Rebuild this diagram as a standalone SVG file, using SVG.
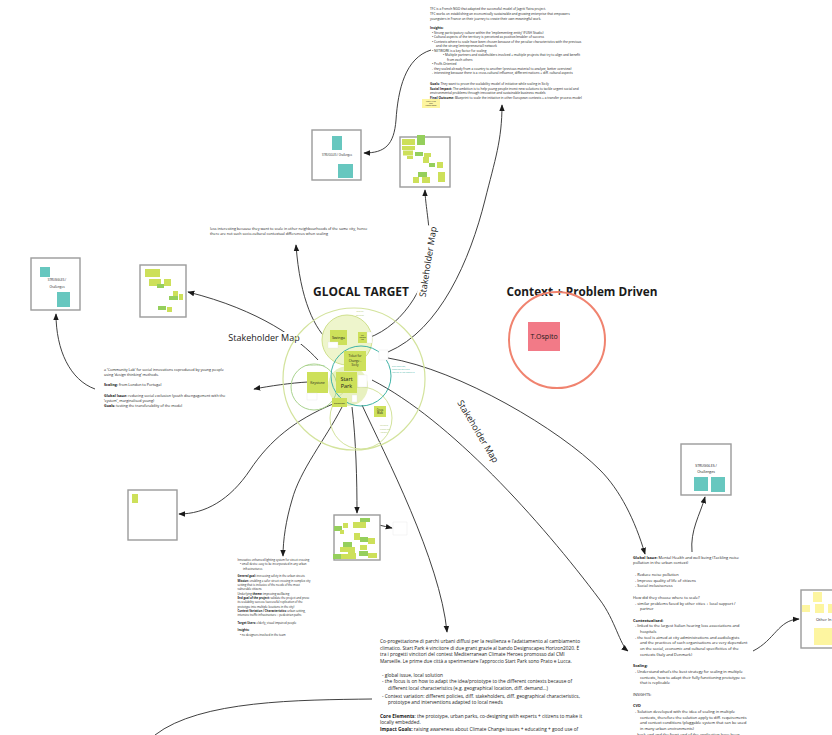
<svg xmlns="http://www.w3.org/2000/svg" width="832" height="735" viewBox="0 0 832 735">
<defs>
<style>
text{font-family:"Open Sans","Noto Sans","Liberation Sans",sans-serif;fill:#1a1a1a}
.t{font-size:3.2px}
.tl{font-size:3.7px}
.tb{font-size:2.8px}
.ti{font-size:4.8px}
.tr{font-size:3.9px}
.b{font-weight:700}
.board{fill:#fff;stroke:#9b9b9b;stroke-width:1.4}
.teal{fill:#67c7bf}
.lime{fill:#cde05a}
.grn{fill:#95cf5c}
.yel{fill:#fdf5a0}
.note{fill:#fff;stroke:#ddd;stroke-width:0.3}
.c{fill:none;stroke:#2b2b2b;stroke-width:0.9}
.lbl{font-size:9px;fill:#222}
.title{font-size:12.5px;font-weight:700}
</style>
<marker id="ah" viewBox="0 0 10 10" refX="9" refY="5" markerWidth="7" markerHeight="7" orient="auto-start-reverse" markerUnits="userSpaceOnUse">
<path d="M0,1 L10,5 L0,9 z" fill="#1a1a1a"/>
</marker>
</defs>

<!-- connectors -->
<g id="connectors">
<path class="c" marker-end="url(#ah)" d="M431,50 C405,58 398,90 396,120 C394,145 385,153 364,153"/>
<path class="c" marker-end="url(#ah)" d="M368,338 C405,325 432,280 430,240 C428,215 425,200 425,190"/>
<path class="c" marker-end="url(#ah)" d="M388,352 C440,330 470,260 485,200 C495,160 502,140 502,105"/>
<path class="c" marker-end="url(#ah)" d="M330,342 C315,330 300,300 296,245"/>
<path class="c" marker-end="url(#ah)" d="M318,360 C300,340 260,310 188,292"/>
<path class="c" marker-end="url(#ah)" d="M308,382 C290,383 270,386 254,389"/>
<path class="c" marker-end="url(#ah)" d="M95,389 C70,380 56,350 56,314"/>
<path class="c" marker-end="url(#ah)" d="M333,404 C295,420 270,440 250,470 C230,500 205,514 179,514"/>
<path class="c" marker-end="url(#ah)" d="M342,407 C325,440 300,470 292,500 C286,520 283,540 283,556"/>
<path class="c" marker-end="url(#ah)" d="M352,407 C356,440 357,480 357,513"/>
<path class="c" marker-end="url(#ah)" d="M362,405 C385,455 440,560 447,632"/>
<path class="c" marker-end="url(#ah)" d="M372,380 C450,420 540,520 600,600 C615,620 620,645 628,651"/>
<path class="c" marker-end="url(#ah)" d="M388,358 C460,370 560,430 600,470 C620,490 635,520 645,554"/>
<path class="c" marker-end="url(#ah)" d="M692,552 C690,530 700,515 705,497"/>
<path class="c" marker-end="url(#ah)" d="M753,651 C775,640 778,620 799,619"/>
<path class="c" marker-end="url(#ah)" d="M365,522 C375,524 383,526 392,528"/>
<path class="c" d="M155,735 C200,700 300,700 372,699"/>
<rect x="219" y="332" width="90" height="12" fill="#fff"/>
<text class="lbl" x="264" y="341" text-anchor="middle">Stakeholder Map</text>
<g transform="translate(429,262) rotate(-81)"><rect x="-36" y="-7" width="72" height="11" fill="#fff"/><text class="lbl" x="0" y="2" text-anchor="middle">Stakeholder Map</text></g>
<g transform="translate(477,432) rotate(59)"><rect x="-36" y="-7" width="72" height="11" fill="#fff"/><text class="lbl" x="0" y="2" text-anchor="middle">Stakeholder Map</text></g>
</g>

<!-- TFC description -->
<g id="tfc-text" class="t">
<text x="430" y="10">TFC is a French NGO that adapted the successful model of Jagriti Yatra project.</text>
<text x="430" y="15">TFC works on establishing an economically sustainable and growing enterprise that empowers</text>
<text x="430" y="19.5">youngsters in France on their journey to create their own meaningful work.</text>
<text x="430" y="29" class="b">Insights:</text>
<text x="432" y="33.5">•  Strong participatory culture within the ‘implementing entity’ (FUSH Studio)</text>
<text x="432" y="38">•  Cultural aspects of the territory is perceived as positive/enabler of success</text>
<text x="432" y="42.5">•  Contexts where to scale have been chosen because of the peculiar characteristics with the previous</text>
<text x="436" y="47">and the strong (entrepreneurial) network</text>
<text x="432" y="51.5">•  NETWORK is a key factor for scaling</text>
<text x="443" y="56">•  Multiple partners and stakeholders involved + multiple projects that try to align and benefit</text>
<text x="447" y="60.5">from each others</text>
<text x="432" y="65">•  Profit-Oriented</text>
<text x="430" y="69.5">→ they scaled already from a country to another (previous material to analyze, better overview)</text>
<text x="430" y="74">→ interesting because there is a cross-cultural influence, different nations + diff. cultural aspects</text>
<text x="430" y="85"><tspan class="b">Goals:</tspan> They want to prove the scalability model of initiative while scaling in Sicily</text>
<text x="430" y="89.5"><tspan class="b">Social Impact:</tspan> The ambition is to help young people invest new solutions to tackle urgent social and</text>
<text x="430" y="94">environmental problems through innovative and sustainable business models</text>
<text x="430" y="98.5"><tspan class="b">Final Outcome:</tspan> Blueprint to scale the initiative in other European contexts + a transfer process model</text>
</g>
<g id="tfc-sticky">
<rect class="yel" x="422" y="99" width="18" height="9"/>
<text x="431" y="102" font-size="1.6" text-anchor="middle">Make it a real</text>
<text x="431" y="104" font-size="1.6" text-anchor="middle">scale</text>
<text x="431" y="106" font-size="1.6" text-anchor="middle">transfer model</text>
</g>

<!-- Boards -->
<g id="board-tfc-struggles">
<rect class="board" x="312" y="130" width="49" height="50"/>
<rect class="teal" x="332" y="136" width="10" height="14"/>
<text x="337" y="156" font-size="2.6" text-anchor="middle">STRUGGLES / Challenges</text>
<rect class="teal" x="338" y="164" width="15" height="14"/>
</g>
<g id="board-tfc-map">
<rect class="board" x="400" y="137" width="50" height="50"/>
<rect class="grn" x="417" y="135" width="8" height="10"/>
<rect class="lime" x="402" y="139" width="13" height="6"/>
<rect class="lime" x="402" y="146" width="13" height="4"/>
<rect class="lime" x="403" y="150.5" width="10" height="5"/>
<rect class="grn" x="415" y="152" width="8" height="4"/>
<rect class="lime" x="424" y="153" width="7" height="4"/>
<rect class="lime" x="407" y="156" width="6" height="3"/>
<rect class="lime" x="423" y="157" width="6" height="6"/>
<rect class="grn" x="429" y="163" width="6" height="4"/>
<rect class="lime" x="437" y="162" width="6" height="6"/>
<rect class="grn" x="418" y="172" width="9" height="5"/>
<rect class="lime" x="413" y="177" width="6" height="6"/>
<rect class="lime" x="422" y="177" width="8" height="6"/>
<rect class="lime" x="438" y="172" width="7" height="10"/>
</g>
<g id="board-keystone-struggles">
<rect class="board" x="31" y="258" width="49" height="52"/>
<rect class="teal" x="40" y="267" width="10" height="10"/>
<text x="57" y="281" font-size="3" text-anchor="middle">STRUGGLES /</text>
<text x="57" y="288" font-size="3" text-anchor="middle">Challenges</text>
<rect class="teal" x="57" y="292" width="13" height="15"/>
</g>
<g id="board-keystone-map">
<rect class="board" x="140" y="265" width="46" height="52"/>
<rect class="lime" x="145" y="269" width="15" height="8"/>
<rect class="lime" x="149" y="279" width="12" height="7"/>
<rect class="grn" x="157" y="284" width="7" height="4"/>
<rect class="lime" x="164" y="279" width="7" height="7"/>
<rect class="lime" x="173" y="291" width="5" height="5"/>
<rect class="grn" x="169" y="296" width="9" height="4"/>
<rect class="lime" x="179" y="294" width="4" height="6"/>
<rect class="grn" x="158" y="306" width="8" height="4"/>
<rect class="lime" x="167" y="307" width="5" height="5"/>
</g>
<g id="board-crosswalk">
<rect class="board" x="128" y="490" width="49" height="50"/>
<rect class="lime" x="132" y="494" width="6" height="9"/>
</g>
<g id="board-startpark-map">
<rect class="board" x="334" y="515" width="46" height="45"/>
<rect class="grn" x="360" y="518" width="10" height="4"/>
<rect class="lime" x="353" y="522" width="13" height="6"/>
<rect class="grn" x="334" y="526" width="8" height="5"/>
<rect class="lime" x="343" y="523" width="5" height="5"/>
<rect class="lime" x="340" y="530" width="4" height="4"/>
<rect class="lime" x="354" y="533" width="6" height="7"/>
<rect class="grn" x="360" y="537" width="8" height="5"/>
<rect class="lime" x="368" y="538" width="7" height="6"/>
<rect class="grn" x="343" y="542" width="9" height="5"/>
<rect class="lime" x="340" y="547" width="8" height="5"/>
<rect class="lime" x="348" y="547" width="7" height="8"/>
<rect class="lime" x="360" y="545" width="7" height="5"/>
<rect class="grn" x="359" y="551" width="9" height="5"/>
<rect class="lime" x="368" y="553" width="9" height="5"/>
<rect class="grn" x="333" y="554" width="8" height="5"/>
<rect class="lime" x="341" y="554" width="7" height="5"/>
<rect class="lime" x="348" y="553" width="8" height="6"/>
<rect class="note" x="393" y="522" width="14" height="13"/>
</g>
<g id="board-noise-struggles">
<rect class="board" x="681" y="444" width="50" height="51"/>
<text x="706" y="467" font-size="3.5" text-anchor="middle">STRUGGLES /</text>
<text x="706" y="472.5" font-size="3.5" text-anchor="middle">Challenges</text>
<rect class="teal" x="694" y="477" width="14" height="14"/>
<rect class="teal" x="711" y="477" width="14" height="15"/>
</g>
<g id="board-other">
<rect class="board" x="801" y="590" width="40" height="58"/>
<rect class="yel" x="813" y="592" width="9" height="10"/>
<rect class="yel" x="802" y="605" width="8" height="7"/>
<rect class="yel" x="815" y="604" width="9" height="9"/>
<rect class="yel" x="828" y="604" width="6" height="9"/>
<text x="816" y="621" font-size="4">Other In</text>
<rect class="yel" x="814" y="628" width="20" height="17"/>
</g>

<!-- Glocal target cluster -->
<g id="glocal">
<text class="title" x="361" y="296" text-anchor="middle" textLength="96" lengthAdjust="spacingAndGlyphs">GLOCAL TARGET</text>
<circle cx="354" cy="379" r="71" fill="none" stroke="#d3e39c" stroke-width="1.2"/>
<circle cx="347" cy="340" r="25" fill="#eef5cc" stroke="#cfe08c" stroke-width="1"/>
<circle cx="348" cy="386" r="20" fill="#e8f1c0"/>
<circle cx="314" cy="387" r="23" fill="none" stroke="#a9d38e" stroke-width="1"/>
<circle cx="361" cy="418" r="31" fill="none" stroke="#d3e39c" stroke-width="1"/>
<circle cx="361" cy="376" r="30" fill="none" stroke="#3fb3a6" stroke-width="1"/>
<text x="360" y="312" font-size="2.4" text-anchor="middle" style="fill:#b0c96a">Digital</text>
<text x="360" y="316" font-size="2.4" text-anchor="middle" style="fill:#b0c96a">Service</text>
<text x="315" y="366" font-size="2.4" text-anchor="middle" style="fill:#8cc46a">Communities Lab</text>
<text x="392" y="367" font-size="2.2" style="fill:#3fb3a6">Stay solution,</text>
<text x="392" y="370" font-size="2.2" style="fill:#3fb3a6">enabling multiple</text>
<text x="392" y="373" font-size="2.2" style="fill:#3fb3a6">testing in the contexts</text>
<text x="380" y="426" font-size="2.2" style="fill:#a9c46a">Physical</text>
<text x="380" y="429.5" font-size="2.2" style="fill:#a9c46a">Prototype</text>
<text x="380" y="433" font-size="2.2" style="fill:#a9c46a">/ Space</text>
</g>
<g id="swinga">
<rect class="lime" x="330" y="330" width="17" height="15"/>
<text x="338.5" y="339" font-size="4" text-anchor="middle">Swinga</text>
<rect class="note" x="328" y="342" width="10" height="6"/>
</g>
<g id="city-log">
<rect class="lime" x="358" y="332" width="9" height="11"/>
<text x="362.5" y="335.5" font-size="1.7" text-anchor="middle">City</text>
<text x="362.5" y="337.8" font-size="1.7" text-anchor="middle">Morning</text>
<text x="362.5" y="340.1" font-size="1.7" text-anchor="middle">Log</text>
<rect class="note" x="367" y="332" width="5" height="11"/>
</g>
<g id="ticket-for-change">
<rect class="lime" x="344" y="351" width="22" height="20"/>
<text x="355" y="357" font-size="3" text-anchor="middle">Ticket for</text>
<text x="355" y="361.5" font-size="3" text-anchor="middle">Change -</text>
<text x="355" y="366" font-size="3" text-anchor="middle">Sicily</text>
<rect class="note" x="379" y="350" width="9" height="10"/>
</g>
<g id="start-park">
<rect class="lime" x="336" y="372" width="21" height="21"/>
<text x="346.5" y="381" font-size="5.5" text-anchor="middle">Start</text>
<text x="346.5" y="388" font-size="5.5" text-anchor="middle">Park</text>
<rect class="note" x="358" y="375" width="9" height="12"/>
</g>
<g id="keystone">
<rect class="lime" x="307" y="372" width="21" height="21"/>
<text x="317.5" y="384" font-size="3.4" text-anchor="middle">Keystone</text>
<rect class="note" x="307" y="393" width="10" height="7"/>
</g>
<g id="signaphon">
<rect class="lime" x="332" y="398" width="15" height="9"/>
<text x="339.5" y="403.5" font-size="2.2" text-anchor="middle">Signaphon</text>
<rect class="note" x="352" y="395" width="5" height="7"/>
</g>
<g id="cross-walk">
<rect class="lime" x="374" y="406" width="12" height="11"/>
<text x="380" y="410.5" font-size="2.6" text-anchor="middle">Cross</text>
<text x="380" y="414" font-size="2.6" text-anchor="middle">Walk</text>
</g>

<!-- Context + problem driven cluster -->
<g id="context-problem">
<text class="title" x="582" y="296" text-anchor="middle" textLength="151" lengthAdjust="spacingAndGlyphs">Context + Problem Driven</text>
<circle cx="557" cy="340" r="48" fill="none" stroke="#f0836f" stroke-width="2"/>
<rect x="528" y="322" width="32" height="29" fill="#f27a87"/>
<text x="544" y="339" font-size="7" text-anchor="middle">T.Ospito</text>
</g>

<!-- Text blocks -->
<g id="swinga-text" class="tl">
<text x="210" y="230">less interesting because they want to scale in other neighbourhoods of the same city, hence</text>
<text x="210" y="235">there are not such socio-cultural contextual differences when scaling</text>
</g>
<g id="keystone-text" class="tl">
<text x="104" y="371">a ‘Community Lab’ for social innovations coproduced by young people</text>
<text x="104" y="376">using ‘design thinking’ methods.</text>
<text x="104" y="386"><tspan class="b">Scaling:</tspan> from London to Portugal</text>
<text x="104" y="397"><tspan class="b">Global Issue:</tspan> reducing social exclusion (youth disengagement with the</text>
<text x="104" y="402">‘system’, marginalised young)</text>
<text x="104" y="407"><tspan class="b">Goals:</tspan> testing the transferability of the model</text>
</g>
<g id="crosswalk-text" class="tb">
<text x="237.5" y="561">Innovative enhanced lighting system for street crossing</text>
<text x="240" y="565.3">•  small device easy to be incorporated in any urban</text>
<text x="243" y="569.7">infrastructures</text>
<text x="237.5" y="577.3"><tspan class="b">General goal:</tspan> increasing safety in the urban streets</text>
<text x="237.5" y="581.7"><tspan class="b">Mission:</tspan> enabling a safer street crossing in complex city</text>
<text x="237.5" y="586">setting that is inclusive of the needs of the most</text>
<text x="237.5" y="590.3">vulnerable citizens</text>
<text x="237.5" y="594.7">Underlying <tspan class="b">theme:</tspan> improving wellbeing</text>
<text x="237.5" y="599"><tspan class="b">End goal of the project:</tspan> validate the project and prove</text>
<text x="237.5" y="603.3">its scalability success (successful replication of the</text>
<text x="237.5" y="607.7">prototype into multiple locations in the city)</text>
<text x="237.5" y="612"><tspan class="b">Context Variation / Characteristics:</tspan> urban setting,</text>
<text x="237.5" y="616.3">intensive traffic infrastructure + pedestrian paths</text>
<text x="237.5" y="624"><tspan class="b">Target Users:</tspan> elderly, visual impaired people</text>
<text x="237.5" y="631.3" class="b">Insights:</text>
<text x="240" y="635.7">•  no designers involved in the team</text>
</g>
<g id="startpark-text" class="ti">
<text x="380" y="643">Co-progettazione di parchi urbani diffusi per la resilienza e l’adattamento al cambiamento</text>
<text x="380" y="649.7">climatico. Start Park è vincitore di due grant grazie al bando Designscapes Horizon2020. È</text>
<text x="380" y="656.4">tra i progetti vincitori del contest Mediterranean Climate Heroes promosso dal CMI</text>
<text x="380" y="663.1">Marseille. Le prime due città a sperimentare l’approccio Start Park sono Prato e Lucca.</text>
<text x="382" y="676.5">-  global issue, local solution</text>
<text x="382" y="683.2">-  the focus is on how to adapt the idea/prototype to the different contexts because of</text>
<text x="388" y="689.9">different local characteristics (e.g. geographical location, diff. demand...)</text>
<text x="382" y="697.6">-  Context variation: different policies, diff. stakeholders, diff. geographical characteristics,</text>
<text x="388" y="704.3">prototype and interventions adapted to local needs</text>
<text x="380" y="717.5"><tspan class="b">Core Elements</tspan>: the prototype, urban parks, co-designing with experts + citizens to make it</text>
<text x="380" y="724.2">locally embedded.</text>
<text x="380" y="730.9"><tspan class="b">Impact Goals:</tspan> raising awareness about Climate Change issues + educating + good use of</text>
</g>
<g id="noise-text" class="tr">
<text x="633" y="558.5"><tspan class="b">Global Issue:</tspan> Mental Health and well being (Tackling noise</text>
<text x="633" y="564.3">pollution in the urban context)</text>
<text x="635" y="576">-  Reduce noise pollution</text>
<text x="635" y="581.7">-  Improve quality of life of citizens</text>
<text x="635" y="587.4">-  Social inclusiveness</text>
<text x="633" y="598.8">How did they choose where to scale?</text>
<text x="635" y="604.5">-  similar problems faced by other cities + local support /</text>
<text x="640" y="610.2">partner</text>
<text x="633" y="621.6" class="b">Contextualised:</text>
<text x="635" y="627.3">-  linked to the largest Italian hearing loss associations and</text>
<text x="640" y="633">hospitals</text>
<text x="635" y="638.7">-  the tool is aimed at city administrations and audiologists</text>
<text x="640" y="644.4">and the practices of such organisations are very dependent</text>
<text x="640" y="650.1">on the social, economic and cultural specificities of the</text>
<text x="640" y="655.8">contexts (Italy and Denmark)</text>
<text x="633" y="667.2" class="b">Scaling:</text>
<text x="635" y="672.9">-  Understand what’s the best strategy for scaling in multiple</text>
<text x="640" y="678.6">contexts, how to adapt their fully functioning prototype so</text>
<text x="640" y="684.3">that is replicable</text>
<text x="633" y="695.7">INSIGHTS:</text>
<text x="633" y="707.1" class="b">CVD</text>
<text x="635" y="712.8">-  Solution developed with the idea of scaling in multiple</text>
<text x="640" y="718.5">contexts, therefore the solution apply to diff. requirements</text>
<text x="640" y="724.2">and context conditions (pluggable system that can be used</text>
<text x="640" y="729.9">in many urban environments)</text>
<text x="635" y="735.6">-  back-end and the front-end of the application have been</text>
</g>
</svg>
